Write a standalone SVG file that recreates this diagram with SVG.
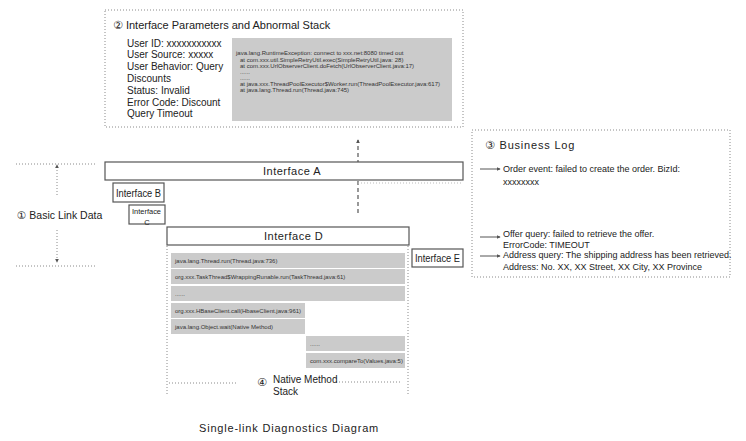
<svg xmlns="http://www.w3.org/2000/svg" width="746" height="441" viewBox="0 0 746 441">
<style>
text{font-family:"Liberation Sans","DejaVu Sans",Arial,sans-serif;fill:#222}
.dot{fill:none;stroke:#8a8a8a;stroke-width:1;stroke-dasharray:1 2}
.box{fill:#fff;stroke:#555;stroke-width:1.2}
.gray{fill:#cbcbcb}
.t11{font-size:11px}
.t10{font-size:10px}
.t9{font-size:9px}
.t6{font-size:6px;fill:#333}
.sp{letter-spacing:0.5px}
.arr{fill:none;stroke:#555;stroke-width:1}
</style>
<defs>
<marker id="ahs" viewBox="0 0 6 6" refX="5" refY="3" markerWidth="4" markerHeight="4" orient="auto" markerUnits="userSpaceOnUse">
<path d="M0,0 L6,3 L0,6 z" fill="#555"/>
</marker>
</defs>

<g id="params-panel">
<rect class="dot" x="105" y="10" width="358" height="117"/>
<text class="t11" x="113" y="29">② Interface Parameters and Abnormal Stack</text>
<text class="t10" x="127" y="46.5">User ID: xxxxxxxxxxx</text>
<text class="t10" x="127" y="58.3">User Source: xxxxx</text>
<text class="t10" x="127" y="70.1">User Behavior: Query</text>
<text class="t10" x="127" y="81.9">Discounts</text>
<text class="t10" x="127" y="93.7">Status: Invalid</text>
<text class="t10" x="127" y="105.5">Error Code: Discount</text>
<text class="t10" x="127" y="117.3">Query Timeout</text>
<rect class="gray" x="232" y="38" width="220" height="83"/>
<text class="t6" x="236" y="55">java.lang.RuntimeException:  connect to xxx.net:8080 timed out</text>
<text class="t6" x="240" y="61.5">at com.xxx.util.SimpleRetryUtil.exec(SimpleRetryUtil.java: 28)</text>
<text class="t6" x="240" y="68">at com.xxx.UrlObserverClient.doFetch(UrlObserverClient.java:17)</text>
<text class="t6" x="240" y="74">......</text>
<text class="t6" x="240" y="80">......</text>
<text class="t6" x="240" y="86">at java.xxx.ThreadPoolExecutor$Worker.run(ThreadPoolExecutor.java:617)</text>
<text class="t6" x="240" y="92">at java.lang.Thread.run(Thread.java:745)</text>
</g>

<g id="connectors">
<line x1="358" y1="213" x2="358" y2="140" stroke="#555" stroke-width="1.2" stroke-dasharray="4 3" marker-end="url(#ahs)"/>
<line class="dot" x1="358" y1="183" x2="463" y2="183" style="stroke:#bbb"/>
<line class="dot" x1="57" y1="195" x2="57" y2="165" marker-end="url(#ahs)"/>
<line class="dot" x1="57" y1="230" x2="57" y2="262" marker-end="url(#ahs)"/>
<line class="arr" x1="480" y1="169" x2="500" y2="169" marker-end="url(#ahs)"/>
<line class="arr" x1="480" y1="237" x2="500" y2="237" marker-end="url(#ahs)"/>
<line class="arr" x1="480" y1="256" x2="500" y2="256" marker-end="url(#ahs)"/>
</g>

<g id="link-data-label">
<line class="dot" x1="16" y1="164" x2="96" y2="164"/>
<line class="dot" x1="16" y1="266" x2="96" y2="266"/>
<text x="17" y="219" style="font-size:10.5px">① Basic Link Data</text>
</g>

<g id="interface-a">
<rect class="box" x="105" y="162" width="358" height="18"/>
<text class="t11 sp" x="263" y="175">Interface A</text>
</g>

<g id="interface-b">
<rect class="box" x="113" y="183" width="51" height="19"/>
<text class="t10" x="116" y="196.5" textLength="45" lengthAdjust="spacingAndGlyphs">Interface B</text>
</g>

<g id="interface-c">
<rect class="box" x="129" y="205" width="36" height="19"/>
<text x="132" y="213.5" style="font-size:7.5px" textLength="29" lengthAdjust="spacingAndGlyphs">Interface</text>
<text x="147" y="224.5" text-anchor="middle" style="font-size:7.5px">C</text>
</g>

<g id="interface-d">
<rect class="box" x="167" y="227" width="242" height="18"/>
<text class="t11 sp" x="264" y="240">Interface D</text>
<line class="dot" x1="167" y1="246" x2="167" y2="394"/>
<line class="dot" x1="408" y1="246" x2="408" y2="394"/>
<rect class="gray" x="171" y="253" width="234" height="15"/>
<text class="t6" x="175" y="262.5">java.lang.Thread.run(Thread.java:736)</text>
<rect class="gray" x="171" y="269" width="234" height="15"/>
<text class="t6" x="175" y="278.5">org.xxx.TaskThread$WrappingRunable.run(TaskThread.java:61)</text>
<rect class="gray" x="171" y="286" width="234" height="15"/>
<text class="t6" x="175" y="295.5">......</text>
<rect class="gray" x="171" y="303" width="134" height="15"/>
<text class="t6" x="175" y="312.5">org.xxx.HBaseClient.call(HbaseClient.java:961)</text>
<rect class="gray" x="171" y="319" width="134" height="15"/>
<text class="t6" x="175" y="328.5">java.lang.Object.wait(Native Method)</text>
<rect class="gray" x="306" y="336" width="99" height="15"/>
<text class="t6" x="310" y="345.5">......</text>
<rect class="gray" x="306" y="353" width="99" height="15"/>
<text class="t6" x="310" y="362.5">com.xxx.compareTo(Values.java:5)</text>
</g>

<g id="native-stack-label">
<line class="dot" x1="169" y1="383" x2="237" y2="383"/>
<line class="dot" x1="336" y1="382" x2="401" y2="382"/>
<text x="257" y="386" style="font-size:11px">④</text>
<text class="t10" x="273" y="382.5">Native Method</text>
<text class="t10" x="273" y="394.5">Stack</text>
</g>

<g id="interface-e">
<rect class="box" x="412" y="249" width="51" height="18"/>
<text class="t10" x="415" y="261.5" textLength="45" lengthAdjust="spacingAndGlyphs">Interface E</text>
</g>

<g id="business-log">
<rect class="dot" x="472" y="130" width="258" height="147"/>
<text class="t11" x="485" y="149" style="letter-spacing:0.8px">③ Business Log</text>
<text class="t9" x="503" y="172">Order event: failed to create the order. BizId:</text>
<text class="t9" x="503" y="185">xxxxxxxx</text>
<text class="t9" x="503" y="237">Offer query: failed to retrieve the offer.</text>
<text class="t9" x="503" y="248">ErrorCode: TIMEOUT</text>
<text class="t9" x="503" y="258">Address query: The shipping address has been retrieved.</text>
<text class="t9" x="503" y="270">Address: No. XX, XX Street, XX City, XX Province</text>
</g>

<text class="t11" x="199" y="432" style="letter-spacing:0.8px">Single-link Diagnostics Diagram</text>
</svg>
